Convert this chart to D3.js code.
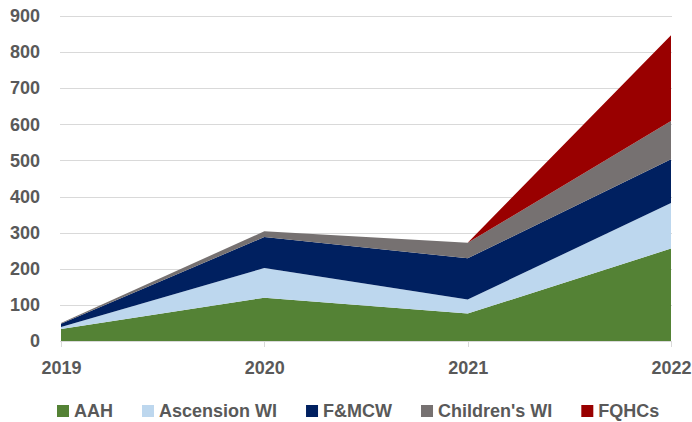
<!DOCTYPE html>
<html lang="en">
<head>
    <meta charset="UTF-8">
    <title>stacked area</title>
    <script src="https://cdnjs.cloudflare.com/ajax/libs/d3/7.8.5/d3.min.js"></script>
    <style>
        body { margin: 0; background: #fff; }
        .chart text {
            font-family: "Liberation Sans", Arial, sans-serif;
            font-weight: bold;
            font-size: 18px;
            fill: #595959;
        }
        .grid line { stroke: #d9d9d9; stroke-width: 1; shape-rendering: crispEdges; }
        .axis path, .axis line { stroke: #d9d9d9; shape-rendering: crispEdges; }
    </style>
</head>
<body>
    <svg class="chart" width="692" height="422"></svg>
    <script>
        const years = ['2019', '2020', '2021', '2022'];
        const seriesNames = ['AAH', 'Ascension WI', 'F&MCW', "Children's WI", 'FQHCs'];
        const colors = ['#548235', '#bdd7ee', '#002060', '#767171', '#990000'];
        const aah = [33, 120, 76, 256];
        const ascension = [6, 82, 39, 126];
        const fmcw = [9, 86, 114, 121];
        const childrens = [2, 16, 43, 106];
        const fqhcs = [0, 0, 0, 238];
        const yTicks = [0, 100, 200, 300, 400, 500, 600, 700, 800, 900];

        const values = [aah, ascension, fmcw, childrens, fqhcs];
        const rows = years.map((yr, i) => {
            const r = { year: yr };
            seriesNames.forEach((s, k) => { r[s] = values[k][i]; });
            return r;
        });

        const plot = { left: 61, right: 671, top: 16, bottom: 341 };

        const x = d3.scalePoint().domain(years).range([plot.left, plot.right]);
        const y = d3.scaleLinear().domain([0, 900]).range([plot.bottom, plot.top]);

        const svg = d3.select('.chart');

        // gridlines
        svg.append('g').attr('class', 'grid')
            .selectAll('line')
            .data(yTicks.slice(1))
            .enter().append('line')
            .attr('x1', plot.left - 1).attr('x2', plot.right + 1)
            .attr('y1', d => Math.round(y(d)) + 0.5)
            .attr('y2', d => Math.round(y(d)) + 0.5);

        const stacked = d3.stack().keys(seriesNames)(rows);
        const area = d3.area()
            .x(d => x(d.data.year))
            .y0(d => y(d[0]))
            .y1(d => y(d[1]));

        svg.append('g').selectAll('path')
            .data(stacked)
            .enter().append('path')
            .attr('fill', (d, i) => colors[i])
            .attr('d', area);

        // x axis
        const xAxis = d3.axisBottom(x).tickSize(6).tickPadding(14);
        const gx = svg.append('g').attr('class', 'axis')
            .attr('transform', `translate(0, ${plot.bottom})`)
            .call(xAxis);
        gx.select('.domain').attr('d', `M${plot.left - 1},0.5H${plot.right + 1}`);
        gx.selectAll('.tick text').attr('fill', '#595959');

        // y axis labels
        const yAxis = d3.axisLeft(y).tickValues(yTicks).tickSize(0).tickPadding(21);
        const gy = svg.append('g').attr('class', 'axis')
            .attr('transform', `translate(${plot.left}, 0)`)
            .call(yAxis);
        gy.select('.domain').remove();
        gy.selectAll('.tick text').attr('fill', '#595959');

        // legend
        const legend = svg.append('g').attr('transform', 'translate(57, 411)');
        let lx = 0;
        seriesNames.forEach((s, i) => {
            const g = legend.append('g').attr('transform', `translate(${lx}, 0)`);
            g.append('rect').attr('x', 0).attr('y', -6).attr('width', 12).attr('height', 12)
                .attr('fill', colors[i]);
            const t = g.append('text').attr('x', 17).attr('dy', '0.35em').text(s);
            lx += 17 + t.node().getComputedTextLength() + 29;
        });
    </script>
</body>
</html>
